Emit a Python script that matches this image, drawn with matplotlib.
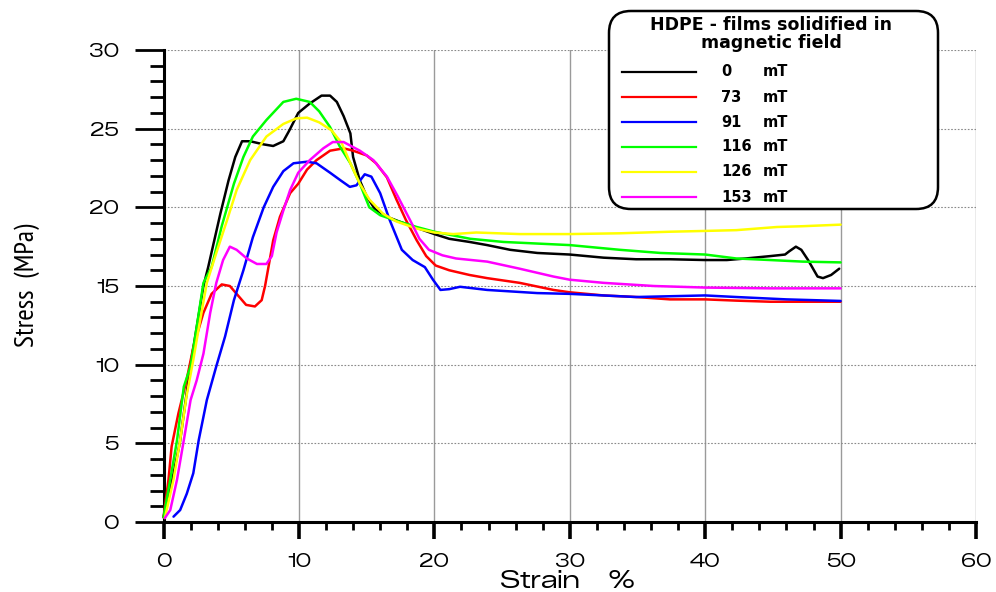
import matplotlib
matplotlib.use("Agg")
import matplotlib.pyplot as plt
from matplotlib.patches import FancyBboxPatch
from matplotlib.lines import Line2D
from matplotlib.ticker import MultipleLocator

# ---------------- data ----------------
labels = ["0", "73", "91", "116", "126", "153"]
colors = ["#000000", "#ff0000", "#0000ff", "#00ff00", "#ffff00", "#ff00ff"]

x_0 = [0.0, 0.6, 1.2, 2.0, 2.95, 3.3, 4.2, 4.8, 5.3, 5.8, 6.4, 7.4, 8.1, 8.85, 9.3, 9.95,
       10.8, 11.67, 12.3, 12.8, 13.3, 13.8, 14.0, 14.5, 15.0, 15.6, 16.5, 17.4, 18.7, 20.0,
       21.1, 22.6, 23.9, 25.6, 27.6, 30.0, 32.5, 34.9, 37.4, 40.0, 41.6, 43.0, 44.8, 45.9,
       46.2, 46.7, 47.1, 47.6, 48.3, 48.7, 49.3, 49.9]
y_0 = [0.3, 2.5, 5.0, 10.0, 15.0, 16.2, 19.6, 21.7, 23.2, 24.2, 24.2, 24.0, 23.9, 24.2, 24.9, 26.0,
       26.6, 27.1, 27.1, 26.7, 25.8, 24.7, 23.2, 21.7, 20.7, 19.9, 19.4, 19.1, 18.7, 18.3,
       18.0, 17.8, 17.6, 17.3, 17.1, 17.0, 16.8, 16.7, 16.7, 16.65, 16.65, 16.75, 16.9, 17.0,
       17.2, 17.5, 17.3, 16.65, 15.6, 15.5, 15.7, 16.1]

x_73 = [0.0, 0.37, 0.6, 1.1, 1.7, 2.2, 2.95, 3.55, 4.3, 4.9, 5.5, 6.1, 6.75, 7.25, 7.5, 7.75,
        8.1, 8.6, 9.35, 9.95, 10.6, 11.3, 12.3, 13.3, 14.0, 15.0, 15.7, 16.5, 17.2, 17.9,
        18.7, 19.4, 20.1, 21.1, 22.6, 23.9, 26.3, 28.8, 30.0, 32.5, 34.9, 37.4, 40.0, 42.3,
        44.8, 50.0]
y_73 = [0.3, 2.7, 4.8, 6.9, 9.0, 11.1, 13.3, 14.5, 15.1, 15.0, 14.4, 13.8, 13.7, 14.1, 15.0, 16.2,
        17.9, 19.4, 20.9, 21.5, 22.4, 23.0, 23.6, 23.75, 23.6, 23.3, 22.8, 21.9, 20.5, 19.2,
        17.9, 16.9, 16.3, 16.0, 15.7, 15.5, 15.2, 14.75, 14.6, 14.4, 14.3, 14.15, 14.15, 14.07,
        14.0, 14.0]

x_91 = [0.74, 1.23, 1.72, 2.2, 2.6, 3.2, 3.9, 4.55, 5.2, 5.9, 6.6, 7.4, 8.1, 8.85, 9.6, 10.6,
        11.3, 12.3, 13.1, 13.76, 14.25, 14.86, 15.35, 16.0, 16.7, 17.6, 18.4, 19.3, 19.9, 20.45,
        21.1, 21.9, 23.9, 27.6, 30.0, 34.9, 40.0, 42.3, 46.0, 50.0]
y_91 = [0.34, 0.76, 1.8, 3.1, 5.2, 7.75, 9.9, 11.8, 14.1, 16.0, 18.1, 20.0, 21.3, 22.3, 22.8, 22.9,
        22.8, 22.2, 21.7, 21.3, 21.4, 22.1, 21.95, 20.9, 19.2, 17.3, 16.65, 16.2, 15.4, 14.75,
        14.8, 14.95, 14.75, 14.55, 14.5, 14.3, 14.4, 14.3, 14.15, 14.05]

x_116 = [0.0, 0.5, 1.0, 1.5, 2.0, 2.45, 2.95, 3.55, 4.3, 5.2, 5.9, 6.6, 7.6, 8.85, 9.8, 10.8,
         11.5, 12.3, 13.0, 13.8, 14.5, 15.2, 16.0, 17.0, 18.7, 20.0, 22.65, 25.1, 30.0, 33.7,
         36.7, 40.0, 42.3, 44.8, 47.2, 50.0]
y_116 = [0.3, 2.7, 5.2, 8.6, 9.9, 12.4, 15.2, 16.2, 18.8, 21.5, 23.2, 24.5, 25.55, 26.7, 26.9, 26.7,
         26.1, 25.1, 23.9, 22.8, 21.5, 20.0, 19.5, 19.2, 18.75, 18.45, 18.0, 17.8, 17.6, 17.3,
         17.1, 17.0, 16.75, 16.65, 16.55, 16.5]

x_126 = [0.1, 0.74, 1.23, 1.7, 2.2, 2.7, 3.2, 3.9, 4.7, 5.4, 6.4, 7.6, 8.85, 9.8, 10.6, 11.5,
         12.4, 13.15, 13.8, 14.5, 15.2, 16.2, 17.2, 18.7, 20.0, 21.4, 23.1, 26.3, 30.0, 33.7,
         37.4, 40.0, 42.3, 45.3, 47.2, 50.0]
y_126 = [0.25, 2.7, 5.2, 8.0, 10.3, 12.8, 15.2, 17.1, 19.2, 21.1, 23.0, 24.5, 25.3, 25.65, 25.7, 25.4,
         24.9, 24.1, 22.8, 21.5, 20.5, 19.6, 19.1, 18.65, 18.4, 18.3, 18.4, 18.3, 18.3, 18.35,
         18.45, 18.5, 18.55, 18.75, 18.8, 18.9]

x_153 = [0.1, 0.5, 1.0, 1.5, 2.0, 2.45, 2.95, 3.45, 3.9, 4.4, 4.9, 5.4, 6.15, 6.9, 7.6, 8.0,
         8.35, 8.85, 9.35, 9.95, 10.8, 11.8, 12.5, 13.3, 14.5, 15.5, 16.5, 17.3, 18.2, 18.9,
         19.6, 20.6, 21.6, 23.9, 26.3, 28.8, 30.0, 32.5, 36.2, 40.0, 44.8, 50.0]
y_153 = [0.25, 0.76, 2.7, 5.2, 7.75, 9.0, 10.7, 13.3, 15.2, 16.65, 17.5, 17.3, 16.75, 16.4, 16.4, 16.9,
         18.4, 19.8, 21.1, 22.2, 23.0, 23.75, 24.15, 24.15, 23.6, 23.0, 21.95, 20.7, 19.2, 18.0,
         17.3, 16.95, 16.75, 16.55, 16.1, 15.6, 15.4, 15.2, 15.0, 14.9, 14.85, 14.85]

series_x = [x_0, x_73, x_91, x_116, x_126, x_153]
series_y = [y_0, y_73, y_91, y_116, y_126, y_153]

legend_title = "HDPE - films solidified in\nmagnetic field"
x_label = "Strain    %"
y_label = "Stress  (MPa)"

# ---------------- fonts ----------------
WIDE = ["Zalando Sans Expanded", "DejaVu Sans"]
NARROW = ["PT Sans Narrow", "Roboto Condensed", "DejaVu Sans"]
BOLD = ["DejaVu Sans"]
plt.rcParams["font.family"] = WIDE

# ---------------- figure ----------------
W, H = 996, 592
fig = plt.figure(figsize=(W / 100, H / 100), dpi=100)
fig.patch.set_facecolor("white")

def fx(px):
    return px / W

def fy(py):
    return 1 - py / H

ax = fig.add_axes([fx(163.5), fy(522), fx(976) - fx(163.5), fy(50) - fy(522)])
ax.set_xlim(0, 60)
ax.set_ylim(0, 30)

for xs, ys, c in zip(series_x, series_y, colors):
    ax.plot(xs, ys, color=c, lw=1.8, solid_joinstyle="round", solid_capstyle="round",
            clip_on=False, zorder=3)

# grid
ax.xaxis.set_major_locator(MultipleLocator(10))
ax.xaxis.set_minor_locator(MultipleLocator(2))
ax.yaxis.set_major_locator(MultipleLocator(5))
ax.yaxis.set_minor_locator(MultipleLocator(1))
ax.grid(True, axis="x", which="major", color="#9a9a9a", lw=1.0, ls="-", zorder=1)
ax.grid(True, axis="y", which="major", color="#8a8a8a", lw=0.8, ls=(0, (1.5, 1.5)), zorder=1)

for s in ("top", "right"):
    ax.spines[s].set_visible(False)
for s in ("left", "bottom"):
    ax.spines[s].set_linewidth(2.2)
    ax.spines[s].set_color("black")

ax.tick_params(axis="y", which="major", direction="out", length=21, width=2.0,
               labelsize=13, pad=11)
ax.tick_params(axis="y", which="minor", direction="out", length=10, width=2.0)
ax.tick_params(axis="x", which="major", direction="out", length=12, width=2.6,
               labelsize=13, pad=10)
ax.tick_params(axis="x", which="minor", direction="out", length=6, width=2.0)

ax.set_xlabel(x_label, fontsize=17.5)
ax.xaxis.set_label_coords((568 - 163.5) / 812.5, (522 - 581) / 472)
ax.xaxis.label.set_va("center")

ax.set_ylabel(y_label, fontsize=20, family=NARROW)
ax.yaxis.set_label_coords((27 - 163.5) / 812.5, (522 - 285) / 472)
ax.yaxis.label.set_va("center")

# ---------------- legend (drawn in figure pixels) ----------------
box = FancyBboxPatch((fx(609), fy(209)), fx(938) - fx(609), fy(11) - fy(209),
                     boxstyle="round,pad=0,rounding_size=0.022",
                     transform=fig.transFigure, facecolor="white", edgecolor="black",
                     lw=1.8, zorder=10, mutation_aspect=W / H)
fig.patches.append(box)
fig.text(fx(771), fy(34), legend_title, ha="center", va="center", fontsize=12.5,
         fontweight="bold", family=BOLD, linespacing=0.95, zorder=11)
rows_y = [72, 97, 122, 147, 172, 197]
for lab, c, ry in zip(labels, colors, rows_y):
    fig.lines.append(Line2D([fx(622), fx(696)], [fy(ry), fy(ry)], color=c, lw=1.6,
                            transform=fig.transFigure, zorder=11))
    fig.text(fx(721), fy(ry), lab, ha="left", va="center", fontsize=10.5,
             fontweight="bold", family=BOLD, zorder=11)
    fig.text(fx(763), fy(ry), "mT", ha="left", va="center", fontsize=10.5,
             fontweight="bold", family=BOLD, zorder=11)

fig.savefig("out.png", dpi=100)
